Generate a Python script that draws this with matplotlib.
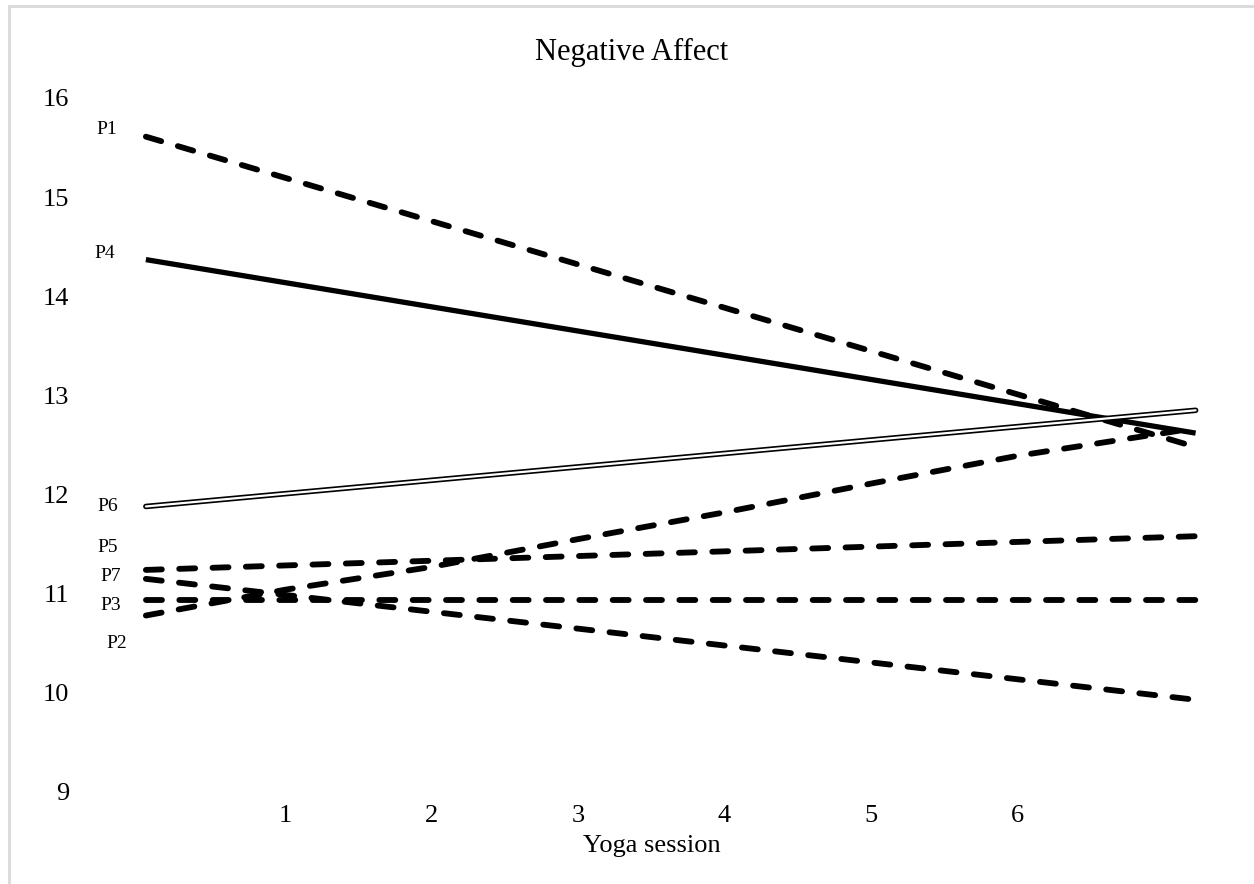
import matplotlib.pyplot as plt
from matplotlib.patches import Rectangle

plt.rcParams['font.family'] = ['Liberation Serif', 'DejaVu Serif']
plt.rcParams['lines.scale_dashes'] = False

# fitted lines per participant (session, negative affect)
p1_x = [0.05, 7.22]
p1_y = [15.61, 12.48]
p4_x = [0.05, 7.22]
p4_y = [14.37, 12.62]
p6_x = [0.05, 7.22]
p6_y = [11.88, 12.85]
p5_x = [0.05, 7.22]
p5_y = [11.24, 11.58]
p7_x = [0.05, 7.22]
p7_y = [11.15, 9.93]
p3_x = [0.05, 7.22]
p3_y = [10.94, 10.94]
p2_x = [0.05, 1, 2, 3, 4, 5, 6, 7.22]
p2_y = [10.78, 11.04, 11.27, 11.55, 11.82, 12.11, 12.39, 12.67]

names = ["P1", "P4", "P6", "P5", "P7", "P3", "P2"]
label_y = [15.68, 14.43, 11.88, 11.47, 11.17, 10.88, 10.50]
label_x = [-0.22, -0.23, -0.21, -0.21, -0.19, -0.19, -0.15]

sessions = [1, 2, 3, 4, 5, 6]

fig = plt.figure(figsize=(12.54, 8.84), dpi=100)
ax = fig.add_axes([80 / 1254, 92 / 884, (1236.6 - 80) / 1254, (792 - 98) / 884])

dash = dict(color='black', lw=4.2, dashes=(11.5, 12.5), dash_capstyle='round')
ax.plot(p1_x, p1_y, **dash)
ax.plot(p5_x, p5_y, **dash)
ax.plot(p7_x, p7_y, **dash)
ax.plot(p3_x, p3_y, **dash)
ax.plot(p2_x, p2_y, **dash)
ax.plot(p4_x, p4_y, color='black', lw=3.8, solid_capstyle='butt')
# double line for P6
ax.plot(p6_x, p6_y, color='black', lw=4.0, solid_capstyle='round')
ax.plot(p6_x, p6_y, color='white', lw=1.6, solid_capstyle='round')

for n, lx, ly in zip(names, label_x, label_y):
    ax.text(lx, ly, n, fontsize=14, ha='center', va='center')

ax.set_xlim(-0.4, 7.5)
ax.set_ylim(9, 16)
ax.set_xticks(sessions)
ax.set_yticks(range(9, 17))
ax.tick_params(length=0, labelsize=19)
ax.tick_params(axis='y', pad=8)
ax.tick_params(axis='x', pad=9)
for s in ax.spines.values():
    s.set_visible(False)
ax.set_xlabel("Yoga session", fontsize=19, labelpad=6)
ax.xaxis.set_label_coords(0.5 - 6 / 1156, -0.062)
fig.text(632 / 1254, 1 - 52 / 884, "Negative Affect", fontsize=22, ha='center', va='center')

fig.patches.append(Rectangle((8.5 / 1254, -0.1), 2, 1 - 6.5 / 884 + 0.1,
                             transform=fig.transFigure, fill=False,
                             edgecolor='#d9d9d9', lw=2))

plt.savefig("out.png", dpi=100)
